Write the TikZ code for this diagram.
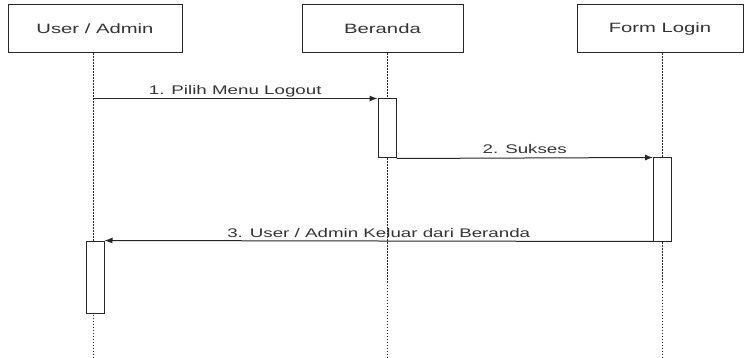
\documentclass[tikz,border=0pt]{standalone}
\usepackage{fontspec}
\setmainfont{Liberation Sans}
\newfontfamily\seqfont[FakeStretch=1.5]{Liberation Sans}
\usetikzlibrary{arrows.meta}
\begin{document}
\begin{tikzpicture}[x=1pt,y=-1pt,
  actor/.style={draw=black!85, line width=1pt, fill=white, rectangle,
    minimum width=174pt, minimum height=48pt, inner sep=0pt,
    font=\seqfont\fontsize{13.5}{16}\selectfont, text=black!80},
  lifeline/.style={draw=black!85, line width=1pt, dash pattern=on 1.2pt off 1.8pt},
  act/.style={draw=black!85, line width=1pt, fill=white, rectangle,
    minimum width=18pt, inner sep=0pt},
  msg/.style={draw=black!85, line width=1pt, -{Latex[length=8pt,width=6pt]}},
  lbl/.style={font=\seqfont\fontsize{12.5}{15}\selectfont, text=black!80,
    inner sep=0pt, anchor=base, yshift=4pt}]
  \useasboundingbox (0,0) rectangle (744,358);

  % participants
  \node[actor] (user) at (95,29) {User / Admin};
  \node[actor, minimum width=161pt] (beranda) at (382.5,29) {Beranda};
  \node[actor, minimum width=166pt] (login) at (660,29) {Form Login};

  % lifeline ends
  \coordinate (userEnd) at (93,358);
  \coordinate (berandaEnd) at (387,358);
  \coordinate (loginEnd) at (662,358);

  \draw[lifeline] (user.south -| userEnd) -- (userEnd);
  \draw[lifeline] (beranda.south -| berandaEnd) -- (berandaEnd);
  \draw[lifeline] (login.south -| loginEnd) -- (loginEnd);

  % activation bars
  \node[act, minimum height=59pt] (actB) at (387,128.5) {};
  \node[act, minimum height=83pt] (actL) at (662.5,199.5) {};
  \node[act, minimum height=72pt] (actU) at (95,277) {};

  % messages
  \draw[msg] (userEnd |- actB.north west) -- (actB.north west)
    node[lbl, midway] {1. Pilih Menu Logout};
  \draw[msg] (actB.south east) -- (actL.north west)
    node[lbl, midway] {2. Sukses};
  \draw[msg] (actL.south west) -- (actU.north east)
    node[lbl, midway] {3. User / Admin Keluar dari Beranda};
\end{tikzpicture}
\end{document}
